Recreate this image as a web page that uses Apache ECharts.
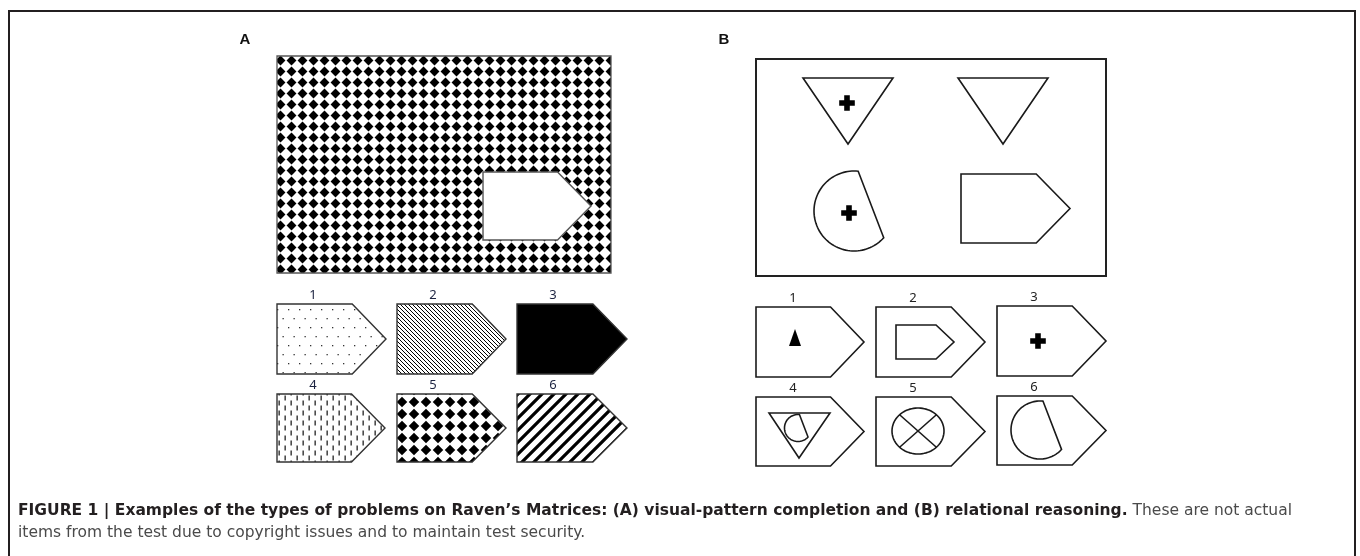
<!DOCTYPE html>
<html>
<head>
<meta charset="utf-8">
<script src="https://cdn.jsdelivr.net/npm/echarts@6/dist/echarts.min.js"></script>
<style>
  html, body { margin: 0; padding: 0; background: #fff; }
  #fig { width: 1360px; height: 556px; }
</style>
</head>
<body>
<div id="fig"></div>
<script>
// plate geometry, in pixel units of the 1360 x 556 figure
var frameLine = [[9, 556], [9, 11], [1355, 11], [1355, 556]];
var panelNames = ['A', 'B'];
var panelPos = [[245, 40], [724, 40]];

// panel A: patterned matrix with a missing piece + six answer pieces
var matrixA = [277, 56, 334, 217];          // x, y, w, h
var gapA = [483, 172, 108, 68];
var answerNames = ['1', '2', '3', '4', '5', '6'];
var answerFillA = ['dots', 'hatch', 'solid', 'dashes', 'diamonds', 'stripes'];
var answerPosA = [[277, 304], [397, 304], [517, 304], [277, 394], [397, 394], [517, 394]];
var answerSizeA = [[109, 70], [109, 70], [110, 70], [108, 68], [109, 68], [110, 68]];

// panel B: relational matrix + six answer pieces
var boxB = [756, 59, 350, 217];
var pentagonsB = [[961, 174, 109, 69], [756, 307, 108, 70], [876, 307, 109, 70], [997, 306, 109, 70],
                  [756, 397, 108, 69], [876, 397, 109, 69], [997, 396, 109, 69], [896, 325, 58, 34]];
var answerPosB = [[756, 307], [876, 307], [997, 306], [756, 397], [876, 397], [997, 396]];
var trianglesB = [[[803, 78], [893, 78], [848, 144]], [[958, 78], [1048, 78], [1003, 144]],
                  [[769, 413], [830, 413], [799, 458]]];
var solidTriB = [[795, 329], [789, 346], [801, 346]];
var piesB = [[854, 211, 40], [798, 428, 13.5], [1040, 430, 29]];   // cx, cy, r
var plusesB = [[847, 103], [849, 213], [1038, 341]];
var ellipseB = [918, 431, 26, 23];

var captionBold = 'FIGURE 1 | Examples of the types of problems on Raven\u2019s Matrices: (A) visual-pattern completion and (B) relational reasoning.';
var captionRest1 = 'These are not actual';
var captionRest2 = 'items from the test due to copyright issues and to maintain test security.';

var INK = '#1a1a1a';
var CAPTION_FONT = 'DejaVu Sans, Liberation Sans, Arial, sans-serif';

function tile(w, h, draw) {
  var c = document.createElement('canvas');
  c.width = w; c.height = h;
  var g = c.getContext('2d');
  g.fillStyle = '#fff';
  g.fillRect(0, 0, w, h);
  g.fillStyle = '#000';
  g.strokeStyle = '#000';
  draw(g, w, h);
  return { image: c, repeat: 'repeat' };
}
function diamondTile(s, k) {
  return tile(s, s, function (g) {
    var c = s / 2, d = s * k;
    g.beginPath();
    g.moveTo(c, c - d); g.lineTo(c + d, c); g.lineTo(c, c + d); g.lineTo(c - d, c);
    g.closePath(); g.fill();
  });
}
var fills = {
  solid: '#000',
  dots: tile(11, 18, function (g) {
    g.fillStyle = '#333';
    g.fillRect(2, 3, 1.3, 1.3);
    g.fillRect(7.5, 12, 1.3, 1.3);
  }),
  hatch: tile(4, 4, function (g) {
    g.lineWidth = 1;
    g.beginPath();
    g.moveTo(-1, -1); g.lineTo(5, 5);
    g.moveTo(-1, 3); g.lineTo(1, 5);
    g.moveTo(3, -1); g.lineTo(5, 1);
    g.stroke();
  }),
  dashes: tile(12, 10, function (g) {
    g.fillStyle = '#222';
    g.fillRect(2.5, 0.5, 1.3, 5);
    g.fillRect(8.5, 5.5, 1.3, 5);
    g.fillRect(8.5, -4.5, 1.3, 5);
  }),
  diamonds: diamondTile(12, 0.44),
  stripes: tile(12, 12, function (g) {
    g.lineWidth = 3.2;
    g.beginPath();
    g.moveTo(-1, 13); g.lineTo(13, -1);
    g.moveTo(-2, 2); g.lineTo(2, -2);
    g.moveTo(10, 14); g.lineTo(14, 10);
    g.stroke();
  }),
  matrix: diamondTile(11, 0.45)
};

function px(api, pts) { return pts.map(function (p) { return api.coord(p); }); }
function pentagon(x, y, w, h) {
  var rw = w * 0.69;
  return [[x, y], [x + rw, y], [x + w, y + h / 2], [x + rw, y + h], [x, y + h]];
}
function rectPts(x, y, w, h) { return [[x, y], [x + w, y], [x + w, y + h], [x, y + h]]; }
function plusPts(cx, cy) {
  var a = 7.8, t = 2.8;
  return [[cx - t, cy - a], [cx + t, cy - a], [cx + t, cy - t], [cx + a, cy - t], [cx + a, cy + t],
          [cx + t, cy + t], [cx + t, cy + a], [cx - t, cy + a], [cx - t, cy + t], [cx - a, cy + t],
          [cx - a, cy - t], [cx - t, cy - t]];
}
// circle cut by a chord: arc runs from the top, round the left, to the lower right
function piePts(cx, cy, r) {
  var out = [];
  for (var a = -84; a >= -318; a -= 3) {
    var t = a * Math.PI / 180;
    out.push([cx + r * Math.cos(t), cy + r * Math.sin(t)]);
  }
  return out;
}
function ellipsePts(cx, cy, rx, ry) {
  var out = [];
  for (var a = 0; a < 360; a += 4) {
    var t = a * Math.PI / 180;
    out.push([cx + rx * Math.cos(t), cy + ry * Math.sin(t)]);
  }
  return out;
}
function outline(api, pts, lw, color) {
  return { type: 'polygon', shape: { points: px(api, pts) },
           style: { fill: 'none', stroke: color || INK, lineWidth: lw || 1.6 } };
}
function textEl(api, p, str, font, color) {
  var c = api.coord(p);
  return { type: 'text', x: c[0], y: c[1],
           style: { text: str, font: font, fill: color, align: 'center', verticalAlign: 'middle',
                    textAlign: 'center', textVerticalAlign: 'middle' } };
}
function layer(data, render) {
  return { type: 'custom', coordinateSystem: 'cartesian2d', silent: true, clip: false,
           data: data, renderItem: render };
}

var chart = echarts.init(document.getElementById('fig'), null, { renderer: 'canvas' });
chart.setOption({
  animation: false,
  backgroundColor: '#fff',
  title: {
    left: 18, top: 500, padding: 0,
    text: '{b|' + captionBold + '} {r|' + captionRest1 + '}\n{r|' + captionRest2 + '}',
    textStyle: {
      rich: {
        b: { fontFamily: CAPTION_FONT, fontWeight: 'bold', fontSize: 15.5, color: '#231f20', lineHeight: 22 },
        r: { fontFamily: CAPTION_FONT, fontWeight: 'normal', fontSize: 15.5, color: '#4a4a4a', lineHeight: 22 }
      }
    }
  },
  grid: { left: 0, right: 0, top: 0, bottom: 0 },
  xAxis: { type: 'value', min: 0, max: 1360, show: false },
  yAxis: { type: 'value', min: 0, max: 556, inverse: true, show: false },
  series: [
    layer([[0, 0]], function (params, api) {
      return { type: 'polyline', shape: { points: px(api, frameLine) },
               style: { fill: 'none', stroke: '#231f20', lineWidth: 2 } };
    }),
    layer(panelPos, function (params, api) {
      return textEl(api, panelPos[params.dataIndex], panelNames[params.dataIndex],
                    'bold 15px Liberation Sans, Arial, sans-serif', '#111');
    }),
    // panel A
    layer([[matrixA[0], matrixA[1]]], function (params, api) {
      var m = matrixA, g = gapA;
      return { type: 'group', children: [
        { type: 'polygon', shape: { points: px(api, rectPts(m[0], m[1], m[2], m[3])) },
          style: { fill: fills.matrix, stroke: '#555', lineWidth: 1.3 } },
        { type: 'polygon', shape: { points: px(api, pentagon(g[0], g[1], g[2], g[3])) },
          style: { fill: '#fff', stroke: '#555', lineWidth: 1.4 } }
      ] };
    }),
    layer(answerPosA, function (params, api) {
      var i = params.dataIndex, p = answerPosA[i], s = answerSizeA[i];
      return { type: 'group', children: [
        { type: 'polygon', shape: { points: px(api, pentagon(p[0], p[1], s[0], s[1])) },
          style: { fill: fills[answerFillA[i]], stroke: '#333', lineWidth: 1.4 } },
        textEl(api, [p[0] + 36, p[1] - 9], answerNames[i], '13px Noto Sans, sans-serif', '#1c2340')
      ] };
    }),
    // panel B
    layer([[boxB[0], boxB[1]]], function (params, api) {
      return outline(api, rectPts(boxB[0], boxB[1], boxB[2], boxB[3]), 2, '#222');
    }),
    layer(pentagonsB, function (params, api) {
      var q = pentagonsB[params.dataIndex];
      return outline(api, pentagon(q[0], q[1], q[2], q[3]));
    }),
    layer(answerPosB, function (params, api) {
      var p = answerPosB[params.dataIndex];
      return textEl(api, [p[0] + 37, p[1] - 9], answerNames[params.dataIndex], '13px Noto Sans, sans-serif', '#222');
    }),
    layer(trianglesB, function (params, api) {
      return outline(api, trianglesB[params.dataIndex]);
    }),
    layer([solidTriB[0]], function (params, api) {
      return { type: 'polygon', shape: { points: px(api, solidTriB) }, style: { fill: '#000' } };
    }),
    layer(piesB, function (params, api) {
      var q = piesB[params.dataIndex];
      return outline(api, piePts(q[0], q[1], q[2]));
    }),
    layer(plusesB, function (params, api) {
      var q = plusesB[params.dataIndex];
      return { type: 'polygon', shape: { points: px(api, plusPts(q[0], q[1])) }, style: { fill: '#000' } };
    }),
    layer([[ellipseB[0], ellipseB[1]]], function (params, api) {
      var e = ellipseB, k = Math.SQRT1_2;
      var a = api.coord([e[0] - e[2] * k, e[1] - e[3] * k]), b = api.coord([e[0] + e[2] * k, e[1] + e[3] * k]);
      var c = api.coord([e[0] + e[2] * k, e[1] - e[3] * k]), d = api.coord([e[0] - e[2] * k, e[1] + e[3] * k]);
      var ls = { stroke: INK, lineWidth: 1.6 };
      return { type: 'group', children: [
        outline(api, ellipsePts(e[0], e[1], e[2], e[3])),
        { type: 'line', shape: { x1: a[0], y1: a[1], x2: b[0], y2: b[1] }, style: ls },
        { type: 'line', shape: { x1: c[0], y1: c[1], x2: d[0], y2: d[1] }, style: ls }
      ] };
    })
  ]
});
</script>
</body>
</html>
